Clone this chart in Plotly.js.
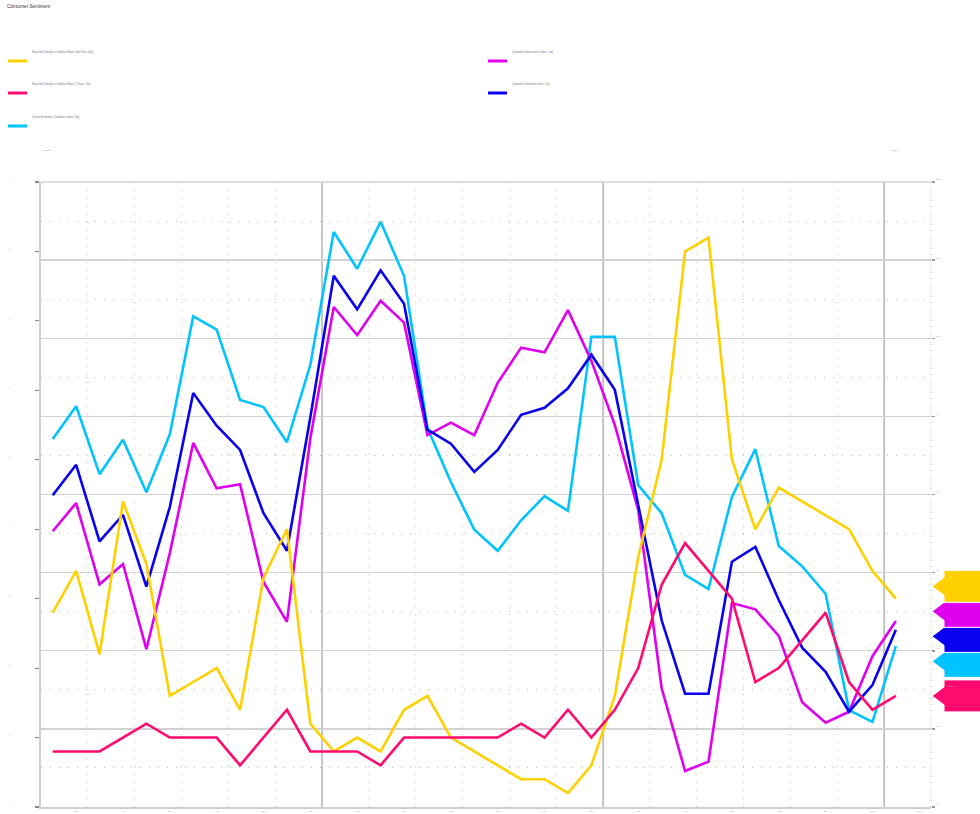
<!DOCTYPE html>
<html><head><meta charset="utf-8">
<script src="https://cdn.plot.ly/plotly-3.0.1.min.js"></script>
<style>html,body{margin:0;padding:0;background:#fff;overflow:hidden}</style>
</head><body><div id="chart" style="width:980px;height:814px"></div>
<script>
// ---------- DATA ----------
const months = ["2021-01","2021-02","2021-03","2021-04","2021-05","2021-06","2021-07","2021-08","2021-09","2021-10","2021-11","2021-12",
  "2022-01","2022-02","2022-03","2022-04","2022-05","2022-06","2022-07","2022-08","2022-09","2022-10","2022-11","2022-12",
  "2023-01","2023-02","2023-03","2023-04","2023-05","2023-06","2023-07","2023-08","2023-09","2023-10","2023-11","2023-12","2024-01"];
const tickLabels = ["Feb","Apr","Jun","Aug","Oct","Dec","Feb","Apr","Jun","Aug","Oct","Dec","Feb","Apr","Jun","Aug","Oct","Dec","Feb"];
const nameInflNextYear = "Expected Changes in Inflation Rates, Next Year, Chg";
const nameInfl5Years = "Expected Changes in Inflation Rates, 5 Years, Chg";
const nameCurrent = "Current Economic Conditions Index, Chg";
const nameExpect = "Consumer Expectations Index, Chg";
const nameSentiment = "Consumer Sentiment Index, Chg";
// percent series (left axis)
const inflNextYear = [2.8,3.4,2.2,4.4,3.5,1.6,1.8,2.0,1.4,3.3,4.0,1.2,0.8,1.0,0.8,1.4,1.6,1.0,0.8,0.6,0.4,0.4,0.2,0.6,1.6,3.6,5.0,8.0,8.2,5.0,4.0,4.6,4.4,4.2,4.0,3.4,3.0];
const infl5Years = [0.8,0.8,0.8,1.0,1.2,1.0,1.0,1.0,0.6,1.0,1.4,0.8,0.8,0.8,0.6,1.0,1.0,1.0,1.0,1.0,1.2,1.0,1.4,1.0,1.4,2.0,3.2,3.8,3.4,3.0,1.8,2.0,2.4,2.8,1.8,1.4,1.6];
// index series (right axis)
const currentCond = [87.1,91.3,82.6,87.0,80.3,87.7,102.8,101.1,92.1,91.2,86.7,96.6,113.6,108.9,114.9,108.0,88.5,81.6,75.5,72.8,76.7,79.8,77.9,100.2,100.2,81.2,77.6,69.7,67.9,79.7,85.8,73.4,70.8,67.3,52.4,50.9,60.6];
const expectations = [75.3,78.9,68.5,71.1,60.2,72.5,86.6,80.8,81.3,68.8,63.7,87.2,104.0,100.4,104.8,102.0,87.6,89.2,87.6,94.3,98.8,98.2,103.6,97.1,88.9,78.0,55.2,44.6,45.8,66.1,65.3,61.9,53.4,50.8,52.2,59.3,63.8];
const sentiment = [79.9,83.8,74.0,77.4,68.2,78.4,93.0,88.8,85.7,77.6,72.8,89.9,108.0,103.7,108.7,104.4,88.3,86.5,82.9,85.7,90.2,91.1,93.6,97.9,93.4,78.7,63.9,54.5,54.5,71.4,73.3,66.5,60.4,57.3,52.2,55.6,62.7];

// ---------- STYLE ----------
const C = {yellow:'#FFD000', pink:'#FF0A6E', cyan:'#00C3FF', magenta:'#E000F0', blue:'#0A00F0'};
const L = 41, R = 931, T = 182, B = 807, W = R - L, H = B - T;
const px2x = p => (p - L) / W;
const px2y = p => (B - p) / H;
const leftRange = [0, 9], rightRange = [40, 120];
const xIdx = months.map((m, i) => i);

const series = [
  {name: nameInflNextYear, y: inflNextYear, color: C.yellow, axis: 'y2'},
  {name: nameInfl5Years, y: infl5Years, color: C.pink, axis: 'y2'},
  {name: nameCurrent, y: currentCond, color: C.cyan, axis: 'y'},
  {name: nameExpect, y: expectations, color: C.magenta, axis: 'y'},
  {name: nameSentiment, y: sentiment, color: C.blue, axis: 'y'}
];

const traces = series.map(s => ({
  type: 'scatter', mode: 'lines', x: xIdx, y: s.y, name: s.name, yaxis: s.axis,
  line: {color: s.color, width: 2.6}, showlegend: false, hoverinfo: 'skip'
}));

const shapes = [];
const annotations = [];
// vertical grid lines (every 2 months, solid at year boundaries)
for (let k = 1; k <= 19; k++) {
  const pos = -0.5 + 2 * k;
  const year = ((pos + 0.5) % 12 === 0) && pos < 37.5;
  shapes.push({type: 'line', xref: 'x', yref: 'paper', x0: pos, x1: pos, y0: 0, y1: 1, layer: 'below',
    line: {color: year ? '#b4b4b4' : '#bdbdbd', width: year ? 1.5 : 1, dash: year ? 'solid' : '1px,7px'}});
}
// top border gridline
shapes.push({type: 'line', xref: 'paper', yref: 'paper', x0: 0, x1: 1, y0: 1, y1: 1, layer: 'below', line: {color: '#d2d2d2', width: 1.3}});

// manual legend
const legendCols = [
  {s: series[0], x: 8, y: 61}, {s: series[1], x: 8, y: 93}, {s: series[2], x: 8, y: 126},
  {s: series[3], x: 488, y: 61}, {s: series[4], x: 488, y: 93}
];
legendCols.forEach(e => {
  shapes.push({type: 'line', xref: 'paper', yref: 'paper', x0: px2x(e.x), x1: px2x(e.x + 19), y0: px2y(e.y), y1: px2y(e.y),
    line: {color: e.s.color, width: 3}});
  annotations.push({xref: 'paper', yref: 'paper', x: px2x(e.x + 22), y: px2y(e.y - 9), xanchor: 'left', yanchor: 'middle',
    text: e.s.name, showarrow: false, font: {size: 2.6, color: '#777'}});
});
annotations.push({xref: 'paper', yref: 'paper', x: px2x(40), y: px2y(151), xanchor: 'left', yanchor: 'middle', text: 'Percent', showarrow: false, font: {size: 2.4, color: '#888'}});
annotations.push({xref: 'paper', yref: 'paper', x: px2x(889), y: px2y(151), xanchor: 'left', yanchor: 'middle', text: 'Index', showarrow: false, font: {size: 2.4, color: '#888'}});
// right dotted edge
shapes.push({type: 'line', xref: 'paper', yref: 'paper', x0: 1, x1: 1, y0: 0, y1: 1, layer: 'below', line: {color: '#bdbdbd', width: 1, dash: '1px,5px'}});

// last-value labels on the right
const lastPx = series.map(s => {
  const v = s.y[s.y.length - 1];
  const r = s.axis === 'y2' ? leftRange : rightRange;
  return {s: s, v: v, p: B - (v - r[0]) / (r[1] - r[0]) * H};
}).sort((a, b) => a.p - b.p);
const gap = 25;
let groups = lastPx.map(it => ({items: [it]}));
const place = g => { const m = g.items.reduce((a, it) => a + it.p, 0) / g.items.length; g.top = m - gap * (g.items.length - 1) / 2; };
groups.forEach(place);
let merged = true;
while (merged) {
  merged = false;
  for (let i = 0; i < groups.length - 1; i++) {
    const a = groups[i], b = groups[i + 1];
    if (b.top < a.top + gap * a.items.length) { a.items = a.items.concat(b.items); place(a); groups.splice(i + 1, 1); merged = true; break; }
  }
}
const labels = [];
groups.forEach(g => g.items.forEach((it, j) => labels.push({it: it, tip: g.top + j * gap})));
labels.slice().reverse().forEach(lb => {
  const t = lb.tip, x0 = 944, x1 = 990, xt = 932;
  const path = `M ${px2x(x0)} ${px2y(t - 16)} L ${px2x(x1)} ${px2y(t - 16)} L ${px2x(x1)} ${px2y(t + 16)} L ${px2x(x0)} ${px2y(t + 16)} L ${px2x(x0)} ${px2y(t + 9)} L ${px2x(xt)} ${px2y(t)} L ${px2x(x0)} ${px2y(t - 9)} Z`;
  shapes.push({type: 'path', xref: 'paper', yref: 'paper', path: path, fillcolor: lb.it.s.color, line: {color: '#ffffff', width: 1}, layer: 'above'});
});
labels.forEach(lb => {
  annotations.push({xref: 'paper', yref: 'paper', x: px2x(947), y: px2y(lb.tip - 9), xanchor: 'left', yanchor: 'middle',
    text: lb.it.v.toFixed(1), showarrow: false, font: {size: 2.4, color: '#ffffff'}});
});

const layout = {
  width: 980, height: 814,
  margin: {l: L, r: 980 - R, t: T, b: 814 - B, pad: 0},
  paper_bgcolor: '#ffffff', plot_bgcolor: '#ffffff',
  font: {family: 'Liberation Sans, Arial, sans-serif', size: 2.4, color: '#888'},
  title: {text: 'Consumer Sentiment', x: 7 / 980, xanchor: 'left', xref: 'container', y: 1 - 6 / 814, yanchor: 'middle', yref: 'container',
    font: {size: 4.6, color: '#333'}},
  showlegend: false,
  hovermode: false,
  xaxis: {range: [-0.5, 37.5], tickmode: 'array', tickvals: tickLabels.map((t, i) => 1 + 2 * i), ticktext: tickLabels,
    showgrid: false, zeroline: false, showline: true, linecolor: '#cfcfcf', linewidth: 1.5, ticks: '', ticklabelstandoff: 1,
    tickfont: {size: 2.4, color: '#999'}},
  yaxis: {side: 'right', range: rightRange, dtick: 10, tick0: 40, showgrid: true, gridcolor: '#d2d2d2', gridwidth: 1.3,
    zeroline: false, showline: false, ticks: 'outside', ticklen: 3, tickcolor: '#9a9a9a', tickwidth: 1.5,
    ticklabelposition: 'outside top', ticklabelstandoff: 4, tickfont: {size: 2.4, color: '#999'},
    minor: {dtick: 5, tick0: 40, showgrid: true, gridcolor: '#bdbdbd', gridwidth: 1, griddash: '1px,8px', ticks: ''}},
  yaxis2: {overlaying: 'y', side: 'left', range: leftRange, dtick: 1, tick0: 0, showgrid: false, zeroline: false,
    showline: true, linecolor: '#d0d0d0', linewidth: 2, ticks: 'outside', ticklen: 4, tickcolor: '#888', tickwidth: 1.2,
    ticklabelposition: 'outside top', ticklabelstandoff: 28, tickfont: {size: 2.4, color: '#999'}},
  shapes: shapes,
  annotations: annotations
};
Plotly.newPlot('chart', traces, layout, {staticPlot: true, displayModeBar: false});
</script>
</body></html>
